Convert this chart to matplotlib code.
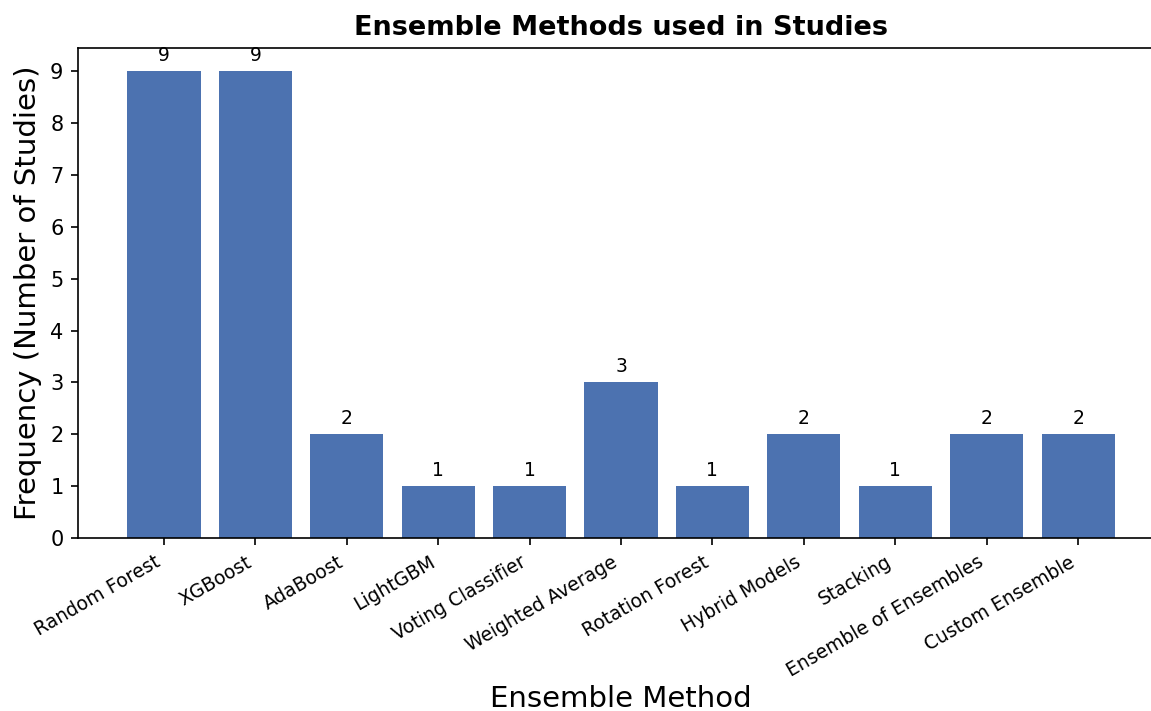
import matplotlib
matplotlib.use("Agg")
import matplotlib.pyplot as plt

methods = ["Random Forest", "XGBoost", "AdaBoost", "LightGBM", "Voting Classifier",
           "Weighted Average", "Rotation Forest", "Hybrid Models", "Stacking",
           "Ensemble of Ensembles", "Custom Ensemble"]
counts = [9, 9, 2, 1, 1, 3, 1, 2, 1, 2, 2]

fig = plt.figure(figsize=(1151 / 150, 711 / 150), dpi=150)
# the original was cropped on the right, so the axes run past the edge
ax = fig.add_axes([0.0678, 0.2433, 0.9435, 0.6892])

bars = ax.bar(methods, counts, color="#4C72B0", width=0.8)
ax.bar_label(bars, padding=3, fontsize=9)

ax.set_yticks(range(0, 10))
ax.set_title("Ensemble Methods used in Studies", fontsize=13, fontweight="bold")
ax.set_xlabel("Ensemble Method", fontsize=14, labelpad=2)
ax.set_ylabel("Frequency (Number of Studies)", fontsize=14)
ax.tick_params(axis="y", labelsize=10)
plt.setp(ax.get_xticklabels(), rotation=30, ha="right", fontsize=9)

fig.savefig("out.png", dpi=150)
